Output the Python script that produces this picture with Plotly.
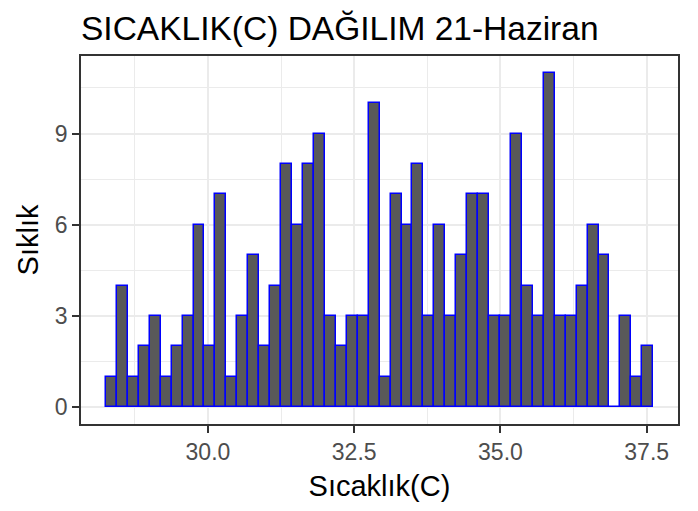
import plotly.graph_objects as go

# histogram counts, 50 bins
counts = [1, 4, 1, 2, 3, 1, 2, 3, 6, 2,
          7, 1, 3, 5, 2, 4, 8, 6, 8, 9,
          3, 2, 3, 3, 10, 1, 7, 6, 8, 3,
          6, 3, 5, 7, 7, 3, 3, 9, 4, 3,
          11, 3, 3, 4, 6, 5, 0, 3, 1, 2]
bin_start = 28.257
bin_width = 0.1871
x_ticks = [30.0, 32.5, 35.0, 37.5]
y_ticks = [0, 3, 6, 9]

centers = [bin_start + bin_width * (i + 0.5) for i in range(len(counts))]

FONT = "Liberation Sans, Arial, sans-serif"
GRID = "#EBEBEB"
DARK = "#333333"

# the page body has an 8px margin, so the figure is sized to fill the rest
W, H = 690, 503

fig = go.Figure()
fig.add_trace(
    go.Bar(
        x=centers,
        y=counts,
        width=bin_width,
        marker=dict(color="#595959", line=dict(color="blue", width=1.5)),
        hoverinfo="x+y",
    )
)

axis_common = dict(
    automargin=False,
    showline=True,
    mirror=True,
    linecolor=DARK,
    linewidth=1.5,
    ticks="outside",
    ticklen=7,
    tickwidth=1.5,
    tickcolor=DARK,
    showgrid=True,
    gridcolor=GRID,
    gridwidth=1.5,
    zeroline=False,
    tickfont=dict(family=FONT, size=23, color="#4D4D4D"),
    title_font=dict(family=FONT, size=29, color="black"),
)

fig.update_layout(
    width=W,
    height=H,
    paper_bgcolor="white",
    plot_bgcolor="white",
    showlegend=False,
    bargap=0,
    margin=dict(l=73, r=20, t=48, b=87, autoexpand=False),
    title=dict(
        text="SICAKLIK(C) DAĞILIM 21-Haziran",
        x=73 / W,
        xanchor="left",
        xref="container",
        y=1 - 20 / H,
        yanchor="middle",
        yref="container",
        font=dict(family=FONT, size=33.5, color="black"),
    ),
    xaxis=dict(
        axis_common,
        title=dict(text="Sıcaklık(C)", standoff=11),
        range=[27.83, 38.035],
        tickvals=x_ticks,
        ticktext=[f"{v:.1f}" for v in x_ticks],
        minor=dict(tickvals=[28.75, 31.25, 33.75, 36.25], showgrid=True,
                   gridcolor=GRID, gridwidth=0.75, ticks=""),
    ),
    yaxis=dict(
        axis_common,
        title=dict(text="Sıklık", standoff=8),
        range=[-0.55, 11.55],
        tickvals=y_ticks,
        ticktext=[str(v) for v in y_ticks],
        minor=dict(tickvals=[1.5, 4.5, 7.5, 10.5], showgrid=True,
                   gridcolor=GRID, gridwidth=0.75, ticks=""),
    ),
)

fig.write_html("out.html")
